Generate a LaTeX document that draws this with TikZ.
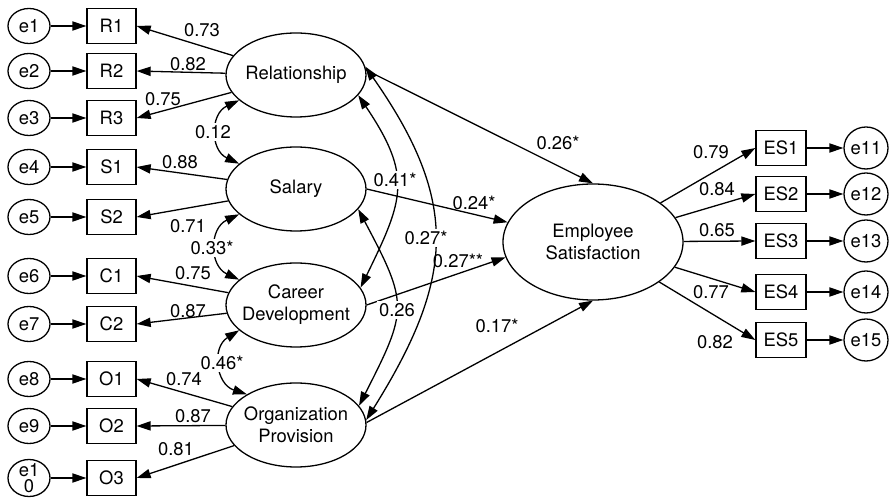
\documentclass[tikz,border=0pt]{standalone}
\usepackage{fontspec}
\setmainfont{TeX Gyre Heros}
\usetikzlibrary{shapes.geometric,arrows.meta}

\begin{document}
\begin{tikzpicture}[x=0.5pt,y=-0.5pt,line width=0.65pt,
    font=\fontsize{9.2}{11}\selectfont,
    >={Triangle[length=7pt,width=4.6pt]},
    latent/.style={draw,ellipse,inner xsep=-5pt,inner ysep=0pt,minimum width=70pt,minimum height=42pt,align=center},
    obs/.style={draw,rectangle,inner sep=0pt,minimum width=24.5pt,minimum height=17.5pt},
    err/.style={draw,ellipse,inner sep=0pt,minimum width=21pt,minimum height=17.5pt},
    lbl/.style={inner sep=0.5pt},
    cut/.style={fill=white,inner sep=1pt}]
            \useasboundingbox (0,0) rectangle (889,501);
            % latent variables
            \node [latent] (rel) at (296,75) {Relationship};
            \node [latent] (sal) at (296,189) {Salary};
            \node [latent] (car) at (296,305) {Career\\Development};
            \node [latent] (org) at (296,425) {Organization\\Provision};
            \node [latent,minimum width=90pt,minimum height=58pt] (es) at (593,242) {Employee\\Satisfaction};
            % indicators and their errors, left side
            \foreach \n/\name/\y in {1/R1/26,2/R2/71,3/R3/118,4/S1/167,5/S2/217,6/C1/276,7/C2/324,8/O1/379,9/O2/426} {
                \node [err] (e\n) at (29,\y) {e\n};
                \node [obs] (\name) at (111.5,\y) {\name};
                \draw [->] (e\n) -- (\name);
            }
            \node [obs] (O3) at (111.5,478) {O3};
            \node [err,align=center,inner ysep=-2.5pt,minimum height=18.5pt,font=\fontsize{9.2}{8.2}\selectfont] (e10) at (29,478) {e1\\0};
            \draw [->] (e10) -- (O3);
            % indicators and errors, right side
            \foreach \n/\y in {1/148,2/194,3/241,4/292,5/340} {
                \node [obs,minimum width=25pt] (ES\n) at (781,\y) {ES\n};
                \node [err,minimum width=22pt,minimum height=21pt] (e1\n) at (866,\y) {e1\n};
                \draw [->] (ES\n) -- (e1\n);
                \draw [->] (es) -- (ES\n.west);
            }
            % loadings
            \draw [->] (rel) -- (R1.east);
            \draw [->] (rel) -- (R2.east);
            \draw [->] (rel) -- (R3.east);
            \draw [->] (sal) -- (S1.east);
            \draw [->] (sal) -- (S2.east);
            \draw [->] (car) -- (C1.east);
            \draw [->] (car) -- (C2.east);
            \draw [->] (org) -- (O1.east);
            \draw [->] (org) -- (O2.east);
            \draw [->] (org) -- (O3.east);
            % structural paths
            \draw [->] (rel.4) -- (es.north);
            \draw [->] (sal.east) -- (es.167);
            \draw [->] (car.east) -- (es.190);
            \draw [->] (org.2) -- (es.south);
            % covariances
            \draw [<->] (rel.204) to [bend right=65,looseness=1.3] (sal.156);
            \draw [<->] (sal.204) to [bend right=65,looseness=1.3] (car.156);
            \draw [<->] (car.204) to [bend right=65,looseness=1.3] (org.148);
            \draw [<->] (rel.7) to [out=-55,in=58,looseness=1.2] (org.4);
            \draw [<->] (rel.-18) to [out=-56,in=64,looseness=1.3] (car.15);
            \draw [<->] (sal.-18) to [out=-62,in=63,looseness=1.4] (org.17);
            % estimates
            \node [lbl] (l-r1) at (202,30) {0.73};
            \node [lbl] (l-r2) at (188,64) {0.82};
            \node [lbl] (l-r3) at (163,99) {0.75};
            \node [lbl] (l-s1) at (180,162) {0.88};
            \node [lbl] (l-s2) at (188,226) {0.71};
            \node [lbl] (l-c1) at (193,273) {0.75};
            \node [lbl] (l-c2) at (188,311) {0.87};
            \node [lbl] (l-o1) at (184,379) {0.74};
            \node [lbl] (l-o2) at (193,416) {0.87};
            \node [lbl] (l-o3) at (176,449) {0.81};
            \node [cut] (l-rs) at (213,132) {0.12};
            \node [cut] (l-sc) at (212,248) {0.33*};
            \node [cut] (l-co) at (222,363) {0.46*};
            \node [cut] (l-rc) at (395,180) {0.41*};
            \node [cut] (l-ro) at (426,238) {0.27*};
            \node [cut] (l-so) at (397,310) {0.26};
            \node [lbl] (l-rel) at (558,143) {0.26*};
            \node [lbl] (l-sal) at (474,203) {0.24*};
            \node [lbl] (l-car) at (458,261) {0.27**};
            \node [lbl] (l-org) at (497,326) {0.17*};
            \node [lbl] (l-es1) at (711,152) {0.79};
            \node [lbl] (l-es2) at (717,189) {0.84};
            \node [lbl] (l-es3) at (717,230) {0.65};
            \node [lbl] (l-es4) at (711,292) {0.77};
            \node [lbl] (l-es5) at (715,342) {0.82};
        \end{tikzpicture}
\end{document}
